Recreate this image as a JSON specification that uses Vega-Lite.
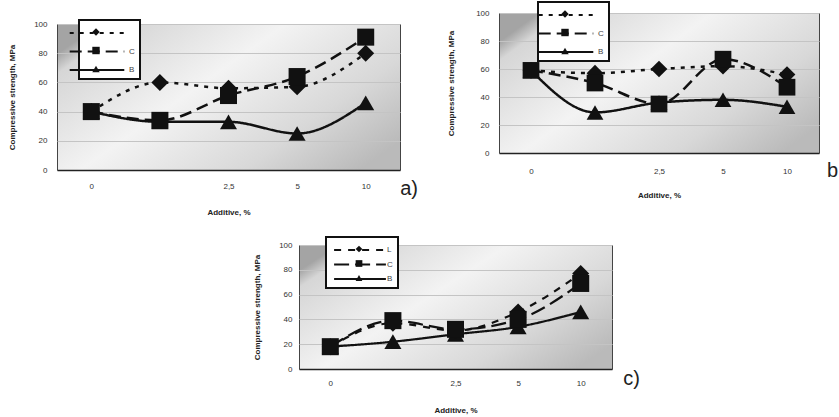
{
  "$schema": "https://vega.github.io/schema/vega-lite/v6.json",
  "padding": {"left": 7, "top": 0, "right": 0, "bottom": 0},
  "data": {
    "values": [
      {"p": "a", "x": "0", "s": "B", "v": 40},
      {"p": "a", "x": "1", "s": "B", "v": 33},
      {"p": "a", "x": "2,5", "s": "B", "v": 33},
      {"p": "a", "x": "5", "s": "B", "v": 25},
      {"p": "a", "x": "10", "s": "B", "v": 46},
      {"p": "a", "x": "0", "s": "L", "v": 40},
      {"p": "a", "x": "1", "s": "L", "v": 60},
      {"p": "a", "x": "2,5", "s": "L", "v": 56},
      {"p": "a", "x": "5", "s": "L", "v": 57},
      {"p": "a", "x": "10", "s": "L", "v": 80},
      {"p": "a", "x": "0", "s": "C", "v": 40},
      {"p": "a", "x": "1", "s": "C", "v": 34},
      {"p": "a", "x": "2,5", "s": "C", "v": 51},
      {"p": "a", "x": "5", "s": "C", "v": 64},
      {"p": "a", "x": "10", "s": "C", "v": 91},
      {"p": "b", "x": "0", "s": "B", "v": 59},
      {"p": "b", "x": "1", "s": "B", "v": 29},
      {"p": "b", "x": "2,5", "s": "B", "v": 36},
      {"p": "b", "x": "5", "s": "B", "v": 38},
      {"p": "b", "x": "10", "s": "B", "v": 33},
      {"p": "b", "x": "0", "s": "L", "v": 59},
      {"p": "b", "x": "1", "s": "L", "v": 57},
      {"p": "b", "x": "2,5", "s": "L", "v": 60},
      {"p": "b", "x": "5", "s": "L", "v": 62},
      {"p": "b", "x": "10", "s": "L", "v": 56},
      {"p": "b", "x": "0", "s": "C", "v": 59},
      {"p": "b", "x": "1", "s": "C", "v": 50},
      {"p": "b", "x": "2,5", "s": "C", "v": 35},
      {"p": "b", "x": "5", "s": "C", "v": 67},
      {"p": "b", "x": "10", "s": "C", "v": 47},
      {"p": "c", "x": "0", "s": "B", "v": 18},
      {"p": "c", "x": "1", "s": "B", "v": 22},
      {"p": "c", "x": "2,5", "s": "B", "v": 28},
      {"p": "c", "x": "5", "s": "B", "v": 34},
      {"p": "c", "x": "10", "s": "B", "v": 46},
      {"p": "c", "x": "0", "s": "L", "v": 18},
      {"p": "c", "x": "1", "s": "L", "v": 37},
      {"p": "c", "x": "2,5", "s": "L", "v": 31},
      {"p": "c", "x": "5", "s": "L", "v": 46},
      {"p": "c", "x": "10", "s": "L", "v": 77},
      {"p": "c", "x": "0", "s": "C", "v": 18},
      {"p": "c", "x": "1", "s": "C", "v": 39},
      {"p": "c", "x": "2,5", "s": "C", "v": 32},
      {"p": "c", "x": "5", "s": "C", "v": 40},
      {"p": "c", "x": "10", "s": "C", "v": 69}
    ]
  },
  "config": {
    "font": "Liberation Sans",
    "view": {
      "fill": {
        "gradient": "linear", "x1": 0, "y1": 0.2, "x2": 1, "y2": 0.8,
        "stops": [
          {"offset": 0, "color": "#a4a4a4"},
          {"offset": 0.06, "color": "#d6d6d6"},
          {"offset": 0.4, "color": "#f3f3f3"},
          {"offset": 0.75, "color": "#d8d8d8"},
          {"offset": 1, "color": "#bababa"}
        ]
      },
      "stroke": "#444",
      "strokeWidth": 1
    },
    "axis": {
      "labelFontSize": 8, "labelColor": "#333", "labelFont": "Liberation Sans",
      "titleFontSize": 8, "titleFontWeight": "bold", "titleColor": "#222", "titleFont": "Liberation Sans",
      "ticks": false
    },
    "axisX": {"domain": true, "domainColor": "#222", "domainWidth": 1.5, "grid": false, "labelAngle": 0},
    "axisY": {"domain": false, "grid": true, "gridColor": "#c4c4c4", "gridWidth": 1},
    "legend": {
      "fillColor": "white", "strokeColor": "#111", "strokeWidth": 2, "padding": 5,
      "labelFontSize": 8, "labelColor": "#444", "labelFont": "Liberation Sans",
      "orient": "none", "title": null
    },
    "title": {"fontSize": 20, "fontWeight": "normal", "color": "#222", "anchor": "end", "orient": "bottom", "baseline": "alphabetic", "font": "Liberation Sans"}
  },
  "resolve": {"scale": {"shape": "independent", "strokeDash": "independent"}},
  "vconcat": [
    {
      "resolve": {"scale": {"shape": "independent", "strokeDash": "independent"}},
      "hconcat": [
        {
          "resolve": {"scale": {"shape": "independent", "strokeDash": "independent"}},
          "vconcat": [
            {"width": 10, "height": 5, "data": {"values": []}, "mark": {"type": "point", "opacity": 0}, "view": {"fill": null, "stroke": null}},
            {
              "width": 343, "height": 146,
              "title": {"text": "a)", "offset": -37, "dx": 18},
              "transform": [{"filter": "datum.p === 'a'"}],
              "encoding": {
                "x": {"field": "x", "type": "ordinal", "sort": ["0", "1", "2,5", "5", "10"], "title": "Additive, %",
                      "axis": {"labelExpr": "datum.label === '1' ? '' : datum.label", "labelPadding": 12, "titlePadding": 18}},
                "y": {"field": "v", "type": "quantitative", "scale": {"domain": [0, 100]}, "title": "Compressive strength, MPa",
                      "axis": {"values": [0, 20, 40, 60, 80, 100], "labelPadding": 10, "titlePadding": 17.5}}
              },
              "layer": [
                {
                  "mark": {"type": "line", "interpolate": "monotone", "strokeWidth": 2.5, "color": "#111"},
                  "encoding": {"strokeDash": {"field": "s", "scale": {"range": [[1, 0], [12, 6], [4, 6]]},
                    "legend": {"values": ["L", "C", "B"], "legendX": 22, "legendY": -4,
                      "symbolType": "M-3.9,0H3.9", "symbolSize": 196, "symbolStrokeWidth": 2, "symbolStrokeColor": "#111",
                      "symbolOffset": 5, "labelOffset": 24, "rowPadding": 6.5,
                      "labelExpr": "datum.label === 'L' ? '' : datum.label"}}}
                },
                {
                  "mark": {"type": "point", "filled": true, "color": "#111", "opacity": 1, "size": 290},
                  "encoding": {
                    "shape": {"field": "s", "scale": {"domain": ["L", "C", "B"], "range": ["diamond", "square", "triangle-up"]},
                      "legend": {"legendX": 22, "legendY": -1, "fillColor": "transparent", "strokeColor": "transparent",
                        "symbolSize": 55, "symbolFillColor": "#111", "symbolStrokeColor": "#111", "symbolStrokeWidth": 0,
                        "symbolOffset": 8, "labelOffset": 24, "rowPadding": 10.5, "labelColor": "transparent",
                        "labelExpr": "datum.label === 'L' ? '' : datum.label"}}
                  }
                }
              ]
            }
          ],
          "spacing": 0
        },
        {
          "width": 320, "height": 140,
          "title": {"text": "b", "offset": -38, "dx": 19},
          "transform": [{"filter": "datum.p === 'b'"}],
          "encoding": {
            "x": {"field": "x", "type": "ordinal", "sort": ["0", "1", "2,5", "5", "10"], "title": "Additive, %",
                  "axis": {"labelExpr": "datum.label === '1' ? '' : datum.label", "labelPadding": 14, "titlePadding": 16}},
            "y": {"field": "v", "type": "quantitative", "scale": {"domain": [0, 100]}, "title": "Compressive strength, MPa",
                  "axis": {"values": [0, 20, 40, 60, 80, 100], "labelPadding": 10, "titlePadding": 20.5}}
          },
          "layer": [
            {
              "mark": {"type": "line", "interpolate": "monotone", "strokeWidth": 2.5, "color": "#111"},
              "encoding": {"strokeDash": {"field": "s", "scale": {"range": [[1, 0], [12, 6], [4, 6]]},
                "legend": {"values": ["L", "C", "B"], "legendX": 39, "legendY": -11,
                  "symbolType": "M-3.9,0H3.9", "symbolSize": 196, "symbolStrokeWidth": 2, "symbolStrokeColor": "#111",
                  "symbolOffset": 15, "labelOffset": 24, "rowPadding": 6.5,
                  "labelExpr": "datum.label === 'L' ? '' : datum.label"}}}
            },
            {
              "mark": {"type": "point", "filled": true, "color": "#111", "opacity": 1, "size": 280},
              "encoding": {
                "shape": {"field": "s", "scale": {"domain": ["L", "C", "B"], "range": ["diamond", "square", "triangle-up"]},
                  "legend": {"legendX": 39, "legendY": -8, "fillColor": "transparent", "strokeColor": "transparent",
                    "symbolSize": 55, "symbolFillColor": "#111", "symbolStrokeColor": "#111", "symbolStrokeWidth": 0,
                    "symbolOffset": 18, "labelOffset": 24, "rowPadding": 10.5, "labelColor": "transparent",
                    "labelExpr": "datum.label === 'L' ? '' : datum.label"}}
              }
            }
          ]
        }
      ],
      "spacing": 27
    },
    {
      "resolve": {"scale": {"shape": "independent", "strokeDash": "independent"}},
      "hconcat": [
        {"width": 195, "height": 1, "data": {"values": []}, "mark": {"type": "point", "opacity": 0}, "view": {"fill": null, "stroke": null}},
        {
          "width": 313, "height": 124,
          "title": {"text": "c)", "offset": -45, "dx": 28},
          "transform": [{"filter": "datum.p === 'c'"}],
          "encoding": {
            "x": {"field": "x", "type": "ordinal", "sort": ["0", "1", "2,5", "5", "10"], "title": "Additive, %",
                  "axis": {"labelExpr": "datum.label === '1' ? '' : datum.label", "labelPadding": 10, "titlePadding": 19}},
            "y": {"field": "v", "type": "quantitative", "scale": {"domain": [0, 100]}, "title": "Compressive strength, MPa",
                  "axis": {"values": [0, 20, 40, 60, 80, 100], "labelPadding": 7, "titlePadding": 17.5}}
          },
          "layer": [
            {
              "mark": {"type": "line", "interpolate": "monotone", "strokeWidth": 2.2, "color": "#111"},
              "encoding": {"strokeDash": {"field": "s", "scale": {"range": [[1, 0], [15, 6], [7, 7]]},
                "legend": {"values": ["L", "C", "B"], "legendX": 27, "legendY": -8,
                  "symbolType": "M-3.7,0H3.7", "symbolSize": 196, "symbolStrokeWidth": 2, "symbolStrokeColor": "#111",
                  "symbolOffset": 21, "labelOffset": 19, "rowPadding": 2.5}}}
            },
            {
              "mark": {"type": "point", "filled": true, "color": "#111", "opacity": 1, "size": 290},
              "encoding": {
                "shape": {"field": "s", "scale": {"domain": ["L", "C", "B"], "range": ["diamond", "square", "triangle-up"]},
                  "legend": {"legendX": 27, "legendY": -5, "fillColor": "transparent", "strokeColor": "transparent",
                    "symbolSize": 45, "symbolFillColor": "#111", "symbolStrokeColor": "#111", "symbolStrokeWidth": 0,
                    "symbolOffset": 24, "labelOffset": 19, "rowPadding": 6.5, "labelColor": "transparent"}}
              }
            }
          ]
        }
      ],
      "spacing": 0
    }
  ],
  "spacing": 18
}
